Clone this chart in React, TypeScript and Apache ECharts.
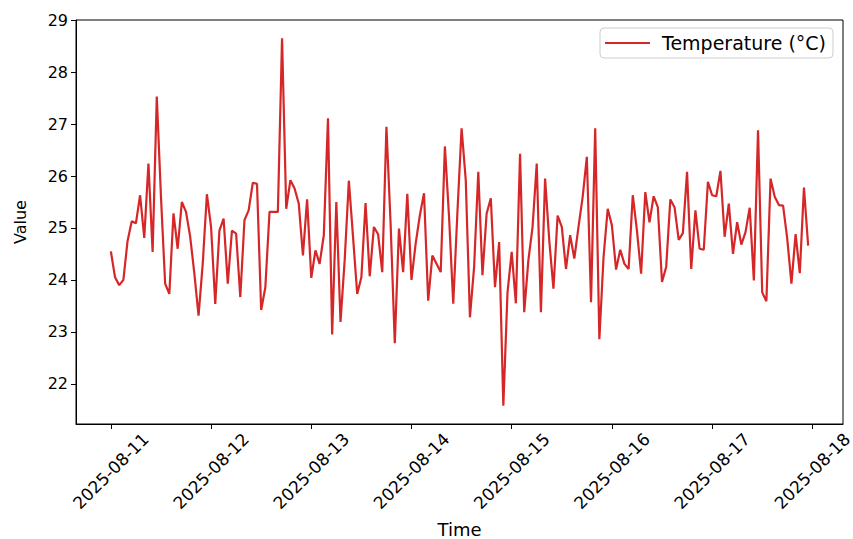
import React, { useEffect, useRef } from "react";
import * as echarts from "echarts";

// Hourly temperature readings, one array per day (00:00 .. 23:00)
const day0811 = [24.55, 24.05, 23.9, 24.0, 24.75, 25.13, 25.09, 25.63, 24.81, 26.24, 24.54, 27.53, 25.6, 23.93, 23.73, 25.28, 24.6, 25.5, 25.31, 24.83, 24.12, 23.31, 24.31, 25.65];
const day0812 = [25.02, 23.54, 24.95, 25.18, 23.93, 24.95, 24.89, 23.67, 25.15, 25.34, 25.87, 25.85, 23.42, 23.86, 25.31, 25.31, 25.31, 28.65, 25.37, 25.92, 25.76, 25.47, 24.47, 25.55];
const day0813 = [24.04, 24.57, 24.31, 24.86, 27.11, 22.95, 25.5, 23.19, 24.38, 25.91, 24.83, 23.73, 24.05, 25.48, 24.07, 25.02, 24.88, 24.15, 26.95, 25.08, 22.78, 24.99, 24.15, 25.66];
const day0814 = [24.0, 24.7, 25.24, 25.67, 23.6, 24.47, 24.31, 24.15, 26.57, 25.21, 23.54, 25.3, 26.92, 25.92, 23.28, 24.25, 26.08, 24.09, 25.28, 25.57, 23.86, 24.73, 21.58, 23.76];
const day0815 = [24.54, 23.55, 26.43, 23.38, 24.38, 25.02, 26.24, 23.38, 25.95, 24.76, 23.83, 25.24, 25.02, 24.21, 24.86, 24.41, 25.02, 25.6, 26.37, 23.57, 26.92, 22.86, 24.44, 25.37];
const day0816 = [25.05, 24.2, 24.58, 24.31, 24.21, 25.63, 24.95, 24.12, 25.69, 25.11, 25.61, 25.4, 23.96, 24.25, 25.55, 25.4, 24.77, 24.9, 26.08, 24.21, 25.34, 24.6, 24.58, 25.89];
const day0817 = [25.63, 25.61, 26.1, 24.83, 25.47, 24.5, 25.11, 24.68, 24.92, 25.39, 23.99, 26.88, 23.76, 23.59, 25.95, 25.6, 25.44, 25.43, 24.79, 23.93, 24.88, 24.13, 25.78, 24.66];

const days = [day0811, day0812, day0813, day0814, day0815, day0816, day0817];
const dayLabels = ["2025-08-11", "2025-08-12", "2025-08-13", "2025-08-14", "2025-08-15", "2025-08-16", "2025-08-17", "2025-08-18"];
const yTickValues = [22, 23, 24, 25, 26, 27, 28, 29];
const seriesName = "Temperature (°C)";

export default function App() {
  const ref = useRef<HTMLDivElement>(null);

  useEffect(() => {
    if (!ref.current) return;
    const chart = echarts.init(ref.current, undefined, { renderer: "svg" });

    // x is measured in hours since 2025-08-11 00:00
    const tickHours = dayLabels.map((_, i) => i * 24);
    const data: [number, number][] = [];
    days.forEach((vals, d) => {
      vals.forEach((v, h) => {
        data.push([d * 24 + h, v]);
      });
    });
    const xs = data.map((p) => p[0]);
    const ys = data.map((p) => p[1]);
    const xMin0 = Math.min(...xs);
    const xMax0 = Math.max(...xs);
    const xPad = (xMax0 - xMin0) * 0.05;
    const yMin0 = Math.min(...ys);
    const yMax0 = Math.max(...ys);
    const yPad = (yMax0 - yMin0) * 0.05;

    const font = "DejaVu Sans";

    chart.setOption({
      animation: false,
      backgroundColor: "#ffffff",
      grid: {
        left: 76,
        right: 10,
        top: 20,
        bottom: 115,
        containLabel: false,
        outerBoundsMode: "none",
        show: true,
        borderColor: "#000",
        borderWidth: 1,
        backgroundColor: "transparent",
      },
      legend: {
        data: [seriesName],
        right: 20,
        top: 28,
        icon: "rect",
        itemWidth: 45,
        itemHeight: 2,
        padding: [5, 7, 5, 5],
        borderColor: "#cccccc",
        borderWidth: 1,
        borderRadius: 4,
        backgroundColor: "rgba(255,255,255,0.8)",
        textStyle: { fontFamily: font, fontSize: 19, color: "#000", padding: [0, 0, 0, 7], lineHeight: 20 },
      },
      xAxis: {
        type: "value",
        min: xMin0 - xPad,
        max: xMax0 + xPad,
        name: "Time",
        nameLocation: "middle",
        nameGap: 96,
        nameTextStyle: { fontFamily: font, fontSize: 18, color: "#000" },
        axisLine: { show: true, onZero: false, lineStyle: { color: "#000", width: 1 } },
        axisTick: { show: true, length: 5, customValues: tickHours, lineStyle: { color: "#000" } },
        axisLabel: {
          customValues: tickHours,
          rotate: 45,
          align: "center",
          verticalAlign: "middle",
          fontFamily: font,
          fontSize: 17,
          color: "#000",
          margin: 47,
          formatter: (val: number) => {
            const i = Math.round(val / 24);
            return dayLabels[i] ?? "";
          },
        },
        splitLine: { show: false },
      },
      yAxis: {
        type: "value",
        min: yMin0 - yPad,
        max: yMax0 + yPad,
        name: "Value",
        nameLocation: "middle",
        nameGap: 48,
        nameTextStyle: { fontFamily: font, fontSize: 16, color: "#000" },
        axisLine: { show: true, onZero: false, lineStyle: { color: "#000", width: 1 } },
        axisTick: { show: true, length: 5, customValues: yTickValues, lineStyle: { color: "#000" } },
        axisLabel: {
          customValues: yTickValues,
          fontFamily: font,
          fontSize: 16,
          color: "#000",
          margin: 8,
          formatter: (v: number) => String(v),
        },
        splitLine: { show: false },
      },
      series: [
        {
          name: seriesName,
          type: "line",
          data,
          symbol: "none",
          lineStyle: { color: "#d62728", width: 2.2 },
          itemStyle: { color: "#d62728" },
        },
      ],
    });

    return () => chart.dispose();
  }, []);

  return (
    <div
      ref={ref}
      style={{ position: "fixed", left: 0, top: 0, width: 853, height: 539, background: "#fff" }}
    />
  );
}
